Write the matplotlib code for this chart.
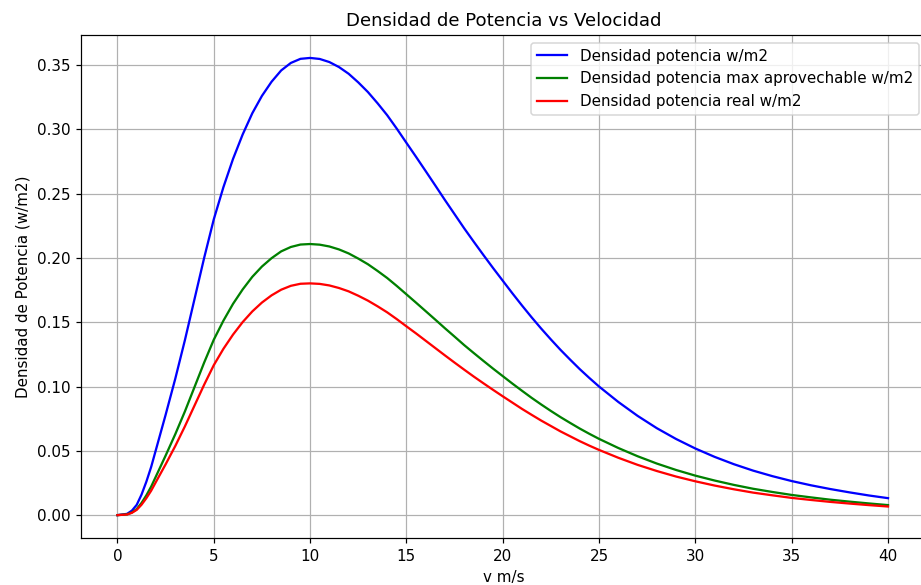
import matplotlib
matplotlib.use("Agg")
import matplotlib.pyplot as plt

# Wind speed (m/s)
velocidad = [0, 0.5, 0.75, 1, 1.25, 1.5, 1.75, 2, 2.5, 3, 3.5, 4, 4.5, 5,
             5.5, 6, 6.5, 7, 7.5, 8, 8.5, 9, 9.5, 10, 10.5, 11, 11.5, 12,
             12.5, 13, 13.5, 14, 14.5, 15, 15.5, 16, 16.5, 17, 17.5, 18,
             18.5, 19, 19.5, 20, 20.5, 21, 21.5, 22, 22.5, 23, 23.5, 24,
             24.5, 25, 26, 27, 28, 29, 30, 31, 32, 33, 34, 35, 36, 37, 38,
             39, 40]

# Available power density (w/m2)
densidad_potencia = [0.0, 0.0010, 0.0035, 0.0080, 0.0160, 0.0260, 0.0375,
                     0.0510, 0.0780, 0.1060, 0.1360, 0.1680, 0.2000, 0.2300,
                     0.2550, 0.2770, 0.2960, 0.3125, 0.3260, 0.3370, 0.3458,
                     0.3516, 0.3548, 0.3555, 0.3547, 0.3523, 0.3484, 0.3432,
                     0.3365, 0.3290, 0.3203, 0.3110, 0.3005, 0.2895, 0.2786,
                     0.2675, 0.2563, 0.2450, 0.2340, 0.2230, 0.2125, 0.2022,
                     0.1921, 0.1823, 0.1725, 0.1630, 0.1538, 0.1450, 0.1366,
                     0.1285, 0.1209, 0.1135, 0.1066, 0.1000, 0.0880, 0.0772,
                     0.0676, 0.0592, 0.0518, 0.0453, 0.0396, 0.0346, 0.0303,
                     0.0265, 0.0232, 0.0203, 0.0177, 0.0153, 0.0132]

# Maximum extractable power density (w/m2)
densidad_max = [0.0, 0.0006, 0.0021, 0.0047, 0.0095, 0.0154, 0.0222, 0.0302,
                0.0463, 0.0629, 0.0806, 0.0996, 0.1186, 0.1364, 0.1512,
                0.1643, 0.1755, 0.1853, 0.1933, 0.1998, 0.2051, 0.2085,
                0.2104, 0.2108, 0.2103, 0.2089, 0.2066, 0.2035, 0.1995,
                0.1951, 0.1899, 0.1844, 0.1782, 0.1717, 0.1652, 0.1586,
                0.1520, 0.1453, 0.1388, 0.1322, 0.1260, 0.1199, 0.1139,
                0.1081, 0.1023, 0.0967, 0.0912, 0.0860, 0.0810, 0.0762,
                0.0717, 0.0673, 0.0632, 0.0593, 0.0522, 0.0458, 0.0401,
                0.0351, 0.0307, 0.0269, 0.0235, 0.0205, 0.0180, 0.0157,
                0.0138, 0.0120, 0.0105, 0.0091, 0.0078]

# Real power density (w/m2)
densidad_real = [0.0, 0.0005, 0.0018, 0.0041, 0.0081, 0.0132, 0.0190, 0.0259,
                 0.0395, 0.0537, 0.0690, 0.0852, 0.1014, 0.1166, 0.1293,
                 0.1404, 0.1501, 0.1584, 0.1653, 0.1709, 0.1753, 0.1783,
                 0.1799, 0.1802, 0.1798, 0.1786, 0.1766, 0.1740, 0.1706,
                 0.1668, 0.1624, 0.1577, 0.1524, 0.1468, 0.1413, 0.1356,
                 0.1299, 0.1242, 0.1186, 0.1131, 0.1077, 0.1025, 0.0974,
                 0.0924, 0.0875, 0.0826, 0.0780, 0.0735, 0.0693, 0.0651,
                 0.0613, 0.0575, 0.0540, 0.0507, 0.0446, 0.0391, 0.0343,
                 0.0300, 0.0263, 0.0230, 0.0201, 0.0175, 0.0154, 0.0134,
                 0.0118, 0.0103, 0.0090, 0.0078, 0.0067]

DPI = 109
fig = plt.figure(figsize=(921 / DPI, 585 / DPI), dpi=DPI)
ax = fig.add_axes([0.0879, 0.0803, 0.918, 0.8598])

ax.plot(velocidad, densidad_potencia, color="blue", label="Densidad potencia w/m2")
ax.plot(velocidad, densidad_max, color="green",
        label="Densidad potencia max aprovechable w/m2")
ax.plot(velocidad, densidad_real, color="red", label="Densidad potencia real w/m2")

ax.set_xlim(-1.895, 41.995)
ax.set_ylim(-0.0178, 0.3733)
ax.set_xticks([0, 5, 10, 15, 20, 25, 30, 35, 40])
ax.set_yticks([0.00, 0.05, 0.10, 0.15, 0.20, 0.25, 0.30, 0.35])

ax.set_title("Densidad de Potencia vs Velocidad", fontsize=12)
ax.set_xlabel("v m/s")
ax.set_ylabel("Densidad de Potencia (w/m2)")
ax.grid(True)
ax.legend(loc="upper right")

fig.savefig("out.png", dpi=DPI)
